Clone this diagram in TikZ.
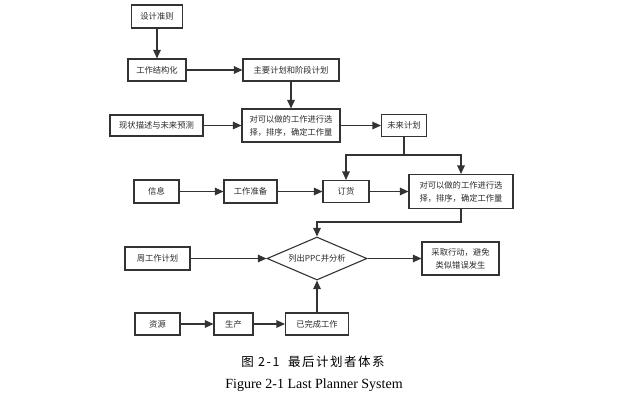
\documentclass[tikz,border=0pt]{standalone}
\usepackage{fontspec}
\setmainfont{Liberation Serif}
\newfontfamily\cjk{Noto Sans CJK SC}
\usetikzlibrary{arrows.meta,shapes.geometric}
\definecolor{ln}{HTML}{333333}
\definecolor{tx}{HTML}{2A2A2A}
\tikzset{
  bx/.style={draw=ln,line width=1.1pt,rectangle,inner sep=0pt,align=center,
    font=\cjk\fontsize{8.3}{13}\selectfont,text=tx},
  dia/.style={draw=ln,line width=1.1pt,diamond,inner sep=0pt,aspect=2.3,
    font=\cjk\fontsize{8.3}{13}\selectfont,text=tx},
  ar/.style={draw=ln,line width=1.1pt,-{Triangle[length=8.5pt,width=7.5pt]}},
  pl/.style={draw=ln,line width=1.1pt},
}
\begin{document}
\begin{tikzpicture}[x=1pt,y=-1pt]
\useasboundingbox (0,0) rectangle (628,400);
\fill[white] (0,0) rectangle (628,400);
% nodes
\node[bx,minimum width=51pt,minimum height=23pt] (dj) at (157,16.5) {设计准则};
\node[bx,minimum width=58pt,minimum height=22pt] (gz) at (157,70) {工作结构化};
\node[bx,minimum width=96pt,minimum height=22pt] (zy) at (291,70) {主要计划和阶段计划};
\node[bx,minimum width=93pt,minimum height=21pt] (xz) at (156.5,125.5) {现状描述与未来预测};
\node[bx,minimum width=98pt,minimum height=33pt] (s1) at (291,125.5) {对可以做的工作进行选\\择，排序，确定工作量};
\node[bx,minimum width=45pt,minimum height=22pt] (wl) at (404,125.5) {未来计划};
\node[bx,minimum width=45pt,minimum height=23pt] (xx) at (156.5,191.5) {信息};
\node[bx,minimum width=53pt,minimum height=23pt] (zb) at (250.5,191.5) {工作准备};
\node[bx,minimum width=46pt,minimum height=22pt] (dh) at (346,191.5) {订货};
\node[bx,minimum width=104pt,minimum height=34pt] (s2) at (461,191.5) {对可以做的工作进行选\\择，排序，确定工作量};
\node[bx,minimum width=65pt,minimum height=23pt] (zg) at (157.5,258.5) {周工作计划};
\node[dia,minimum width=100pt,minimum height=43pt] (pp) at (317,258.5) {列出PPC并分析};
\node[bx,minimum width=77pt,minimum height=33pt] (cq) at (460.5,258.5) {采取行动，避免\\类似错误发生};
\node[bx,minimum width=45pt,minimum height=22pt] (zyn) at (157.5,324) {资源};
\node[bx,minimum width=39pt,minimum height=22pt] (sc) at (233.5,324) {生产};
\node[bx,minimum width=63pt,minimum height=22pt] (wc) at (317,324) {已完成工作};
% connectors
\draw[ar] (dj) -- (gz);
\draw[ar] (gz) -- (zy);
\draw[ar] (zy) -- (s1);
\draw[ar] (xz) -- (s1);
\draw[ar] (s1) -- (wl);
\coordinate (j1) at (wl.south |- 0,155);
\draw[pl] (wl.south) -- (j1);
\draw[ar] (j1) -| (dh.north);
\draw[ar] (j1) -| (s2.north);
\draw[ar] (xx) -- (zb);
\draw[ar] (zb) -- (dh);
\draw[ar] (dh) -- (s2);
\coordinate (j2) at (s2.south |- 0,222);
\draw[ar] (s2.south) -- (j2) -| (pp.north);
\draw[ar] (zg) -- (pp.west);
\draw[ar] (pp.east) -- (cq);
\draw[ar] (zyn) -- (sc);
\draw[ar] (sc) -- (wc);
\draw[ar] (wc) -- (pp.south);
% caption
\node[font=\cjk\fontsize{12.5}{14}\selectfont\addfontfeature{LetterSpace=12},text=black] (c1) at (313,362) {图 2-1\ \ 最后计划者体系};
\node[font=\fontsize{14}{16}\selectfont,text=black] (c2) at (314,385) {Figure 2-1 Last Planner System};
\end{tikzpicture}
\end{document}
